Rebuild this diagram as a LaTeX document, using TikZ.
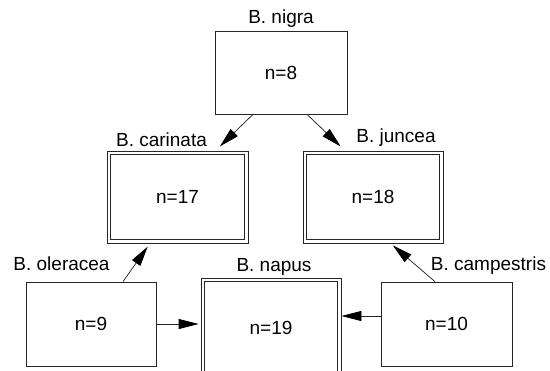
\documentclass[tikz,border=0pt]{standalone}
\usepackage{fontspec}
\setmainfont{Liberation Sans}
\usepackage{tikz}
\usetikzlibrary{arrows.meta}

\begin{document}
\begin{tikzpicture}[x=1bp,y=-1bp,
    font=\fontsize{19bp}{23bp}\selectfont,
    box/.style={draw=black!85, line width=0.75bp, inner sep=0pt, minimum height=84bp},
    hybrid/.style={box, minimum height=92bp},
    tag/.style={anchor=base, inner sep=0pt},
    arr/.style={-{Triangle[length=20bp,width=10bp,black]}, draw=black!85, line width=0.75bp}]
    \useasboundingbox (0,0) rectangle (550,370);
    % diploid species
    \node[box, minimum width=132bp, minimum height=83bp] (nigra) at (281,72.5) {n=8};
    \node[box, minimum width=130bp] (oleracea) at (91,324) {n=9};
    \node[box, minimum width=131bp] (campestris) at (446.5,324) {n=10};
    % amphidiploids
    \node[hybrid, minimum width=141bp] (carinata) at (177.5,197) {n=17};
    \node[hybrid, minimum width=140bp] (juncea) at (373,197) {n=18};
    \node[hybrid, minimum width=140bp, minimum height=100bp] (napus) at (271,328) {n=19};
    \foreach \n in {carinata,juncea,napus}
        \draw[draw=black!85, line width=0.75bp] ([xshift=4bp,yshift=-4bp]\n.north west) rectangle ([xshift=-4bp,yshift=4bp]\n.south east);
    % names
    \node[tag] (nigraname) at (281,23) {B. nigra};
    \node[tag] (carinataname) at (161.5,146) {B. carinata};
    \node[tag] (junceaname) at (396,142) {B. juncea};
    \node[tag] (oleraceaname) at (61.5,270.5) {B. oleracea};
    \node[tag] (campestrisname) at (488.5,270.5) {B. campestris};
    \node[tag] (napusname) at (274,271) {B. napus};
    % crosses
    \coordinate (cw) at ([yshift=8bp]campestris.west);
    \draw[arr, shorten >=6bp] ([xshift=-28bp]nigra.south) -- ([xshift=38bp]carinata.north);
    \draw[arr, shorten >=6bp] ([xshift=26bp]nigra.south) -- ([xshift=-28bp]juncea.north);
    \draw[arr, shorten >=4bp] ([xshift=32bp]oleracea.north) -- ([xshift=-27.5bp]carinata.south);
    \draw[arr, shorten >=3bp] ([xshift=-11.5bp]campestris.north) -- ([xshift=17.5bp]juncea.south);
    \draw[arr, shorten >=2bp] (oleracea.east) -- (oleracea.east -| napus.west);
    \draw[arr] (cw) -- (cw -| napus.east);
\end{tikzpicture}
\end{document}
